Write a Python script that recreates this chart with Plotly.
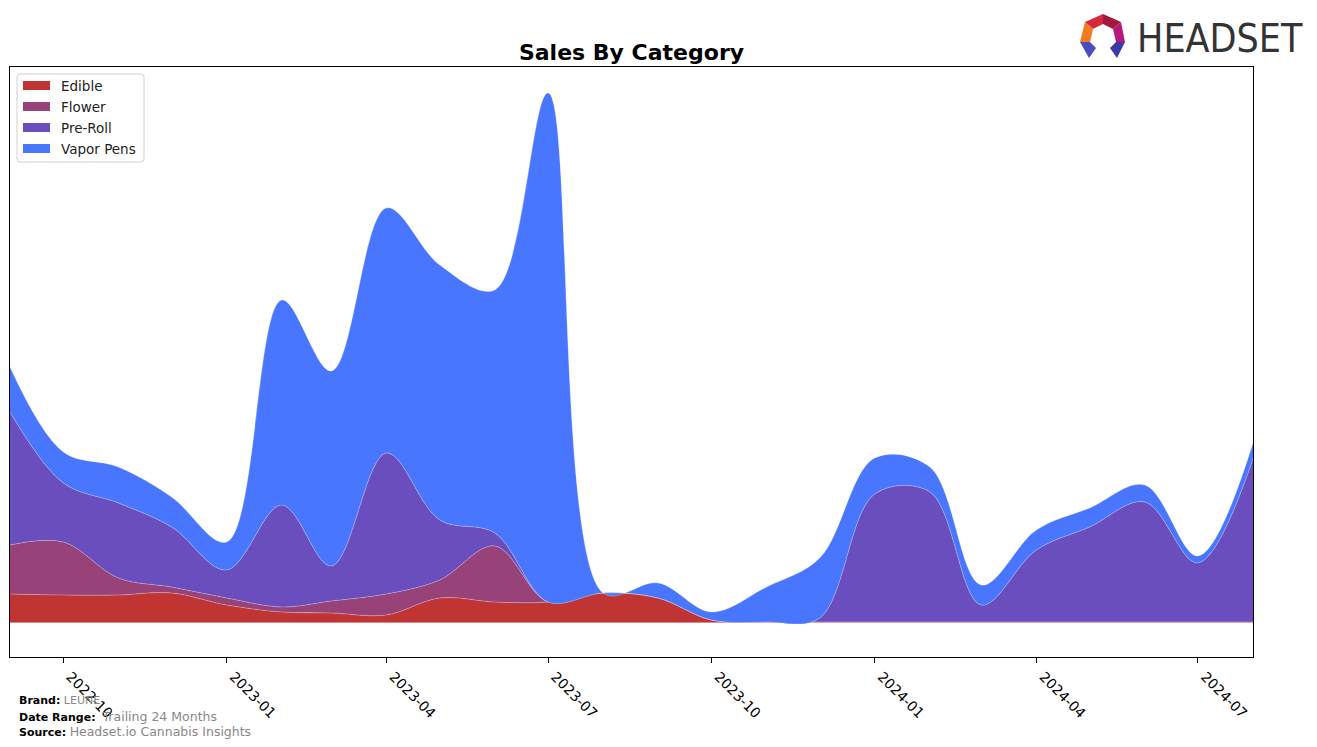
import plotly.graph_objects as go

months = ["2022-09-01", "2022-10-01", "2022-11-01", "2022-12-01", "2023-01-01", "2023-02-01",
          "2023-03-01", "2023-04-01", "2023-05-01", "2023-06-01", "2023-07-01", "2023-08-01",
          "2023-09-01", "2023-10-01", "2023-11-01", "2023-12-01", "2024-01-01", "2024-02-01",
          "2024-03-01", "2024-04-01", "2024-05-01", "2024-06-01", "2024-07-01", "2024-08-01"]

edible = [28, 27, 27, 29, 17, 10, 9, 7, 24, 20, 20, 29, 24, 2, 0, 0, 0, 0, 0, 0, 0, 0, 0, 0]
flower = [49, 53, 17, 6, 7, 5, 12, 21, 18, 56, 0, 0, 0, 0, 0, 0, 0, 0, 0, 0, 0, 0, 0, 0]
pre_roll = [133, 59, 75, 60, 28, 102, 35, 141, 60, 13, 0, 0, 0, 0, 0, 4, 128, 130, 17, 72, 95, 120, 59, 163]
vapor_pens = [45, 31, 36, 30, 28, 205, 195, 245, 255, 243, 509, 0, 15, 8, 35, 60, 36, 25, 20, 20, 19, 17, 7, 16]

series = [
    ("Edible", edible, "rgb(192,52,52)"),
    ("Flower", flower, "rgb(151,66,120)"),
    ("Pre-Roll", pre_roll, "rgb(106,78,189)"),
    ("Vapor Pens", vapor_pens, "rgb(72,118,255)"),
]

W, H = 1317, 747
L, R, T, B = 10, 1253, 67, 657


def px(x):
    return (x - L) / (R - L)


def py(y):
    return (B - y) / (B - T)


fig = go.Figure()
for name, vals, col in series:
    fig.add_trace(go.Scatter(
        x=months, y=vals, name=name, mode="lines", showlegend=False,
        stackgroup="one", fillcolor=col,
        line=dict(shape="spline", smoothing=1.0, width=0.8, color="rgba(255,255,255,0.35)"),
    ))

fig.update_layout(
    width=W, height=H,
    margin=dict(l=L, r=W - R, t=T, b=H - B),
    paper_bgcolor="white", plot_bgcolor="white",
    font=dict(family="DejaVu Sans", size=13, color="black"),
    title=dict(text="<b>Sales By Category</b>", x=px(631.5), xref="paper", xanchor="center",
               y=1 - 52 / H, yanchor="middle", font=dict(size=22, family="DejaVu Sans")),
    showlegend=False,
    xaxis=dict(range=["2022-09-01", "2024-08-01"], type="date",
               tick0="2022-10-01", dtick="M3", tickformat="%Y-%m", tickangle=45,
               ticks="outside", ticklen=5, tickcolor="black", showgrid=False,
               showline=True, linecolor="black", linewidth=1, mirror=True,
               tickfont=dict(size=14), ticklabelshift=7, zeroline=False),
    yaxis=dict(range=[-35, 555], showticklabels=False, ticks="", showgrid=False,
               showline=True, linecolor="black", linewidth=1, mirror=True,
               zeroline=True, zerolinecolor="rgba(210,110,110,0.8)", zerolinewidth=1),
)

# legend (drawn by hand to get patch-style keys)
lx0, ly0, lx1, ly1, rr = 17, 74, 144, 162, 3
legend_box = (f"M {px(lx0 + rr)},{py(ly0)} L {px(lx1 - rr)},{py(ly0)} "
              f"Q {px(lx1)},{py(ly0)} {px(lx1)},{py(ly0 + rr)} L {px(lx1)},{py(ly1 - rr)} "
              f"Q {px(lx1)},{py(ly1)} {px(lx1 - rr)},{py(ly1)} L {px(lx0 + rr)},{py(ly1)} "
              f"Q {px(lx0)},{py(ly1)} {px(lx0)},{py(ly1 - rr)} L {px(lx0)},{py(ly0 + rr)} "
              f"Q {px(lx0)},{py(ly0)} {px(lx0 + rr)},{py(ly0)} Z")
fig.add_shape(type="path", path=legend_box, xref="paper", yref="paper",
              fillcolor="rgba(255,255,255,0.85)", line=dict(color="#d0d0d0", width=1))
for i, (name, vals, col) in enumerate(series):
    cy = 85.5 + 21 * i
    fig.add_shape(type="rect", xref="paper", yref="paper",
                  x0=px(23), x1=px(50), y0=py(cy - 4.5), y1=py(cy + 4.5),
                  fillcolor=col, line=dict(width=0))
    fig.add_annotation(text=name, xref="paper", yref="paper", x=px(59), y=py(cy + 0.5),
                       xanchor="left", yanchor="middle", showarrow=False,
                       font=dict(size=13.5, family="DejaVu Sans", color="#222222"))

# footer
footer = [
    (700, "<b>Brand:</b> <span style='color:#888888;font-size:11px'>LEUNE</span>"),
    (716, "<b>Date Range:</b>  <span style='color:#888888;font-size:12.5px'>Trailing 24 Months</span>"),
    (731, "<b>Source:</b> <span style='color:#888888;font-size:12.5px'>Headset.io Cannabis Insights</span>"),
]
for yy, txt in footer:
    fig.add_annotation(text=txt, xref="paper", yref="paper", x=px(17), y=py(yy),
                       xanchor="left", yanchor="middle", showarrow=False,
                       font=dict(size=11, family="DejaVu Sans", color="black"))

# logo
fig.add_annotation(text="HEADSET", xref="paper", yref="paper", x=px(1305), y=py(38),
                   xanchor="right", yanchor="middle", showarrow=False,
                   font=dict(size=39, family="DejaVu Sans Condensed, Liberation Sans", color="#333333"))

logo_parts = [
    ([(1085, 22), (1103, 14), (1103, 24), (1093, 29)], "#d42a3c"),
    ([(1103, 14), (1121, 22), (1113, 29), (1103, 24)], "#a3173a"),
    ([(1121, 22), (1125, 42), (1116, 42), (1113, 29)], "#b8187a"),
    ([(1085, 22), (1093, 29), (1090, 42), (1080, 42)], "#f27a21"),
    ([(1080, 42), (1090, 42), (1096, 48), (1089, 58)], "#4a4cc0"),
    ([(1125, 42), (1116, 42), (1110, 48), (1117, 58)], "#3a3aa8"),
]
for pts, col in logo_parts:
    path = "M " + " L ".join(f"{px(x):.5f},{py(y):.5f}" for x, y in pts) + " Z"
    fig.add_shape(type="path", path=path, xref="paper", yref="paper",
                  fillcolor=col, line=dict(width=0))

fig.write_html("out.html")
